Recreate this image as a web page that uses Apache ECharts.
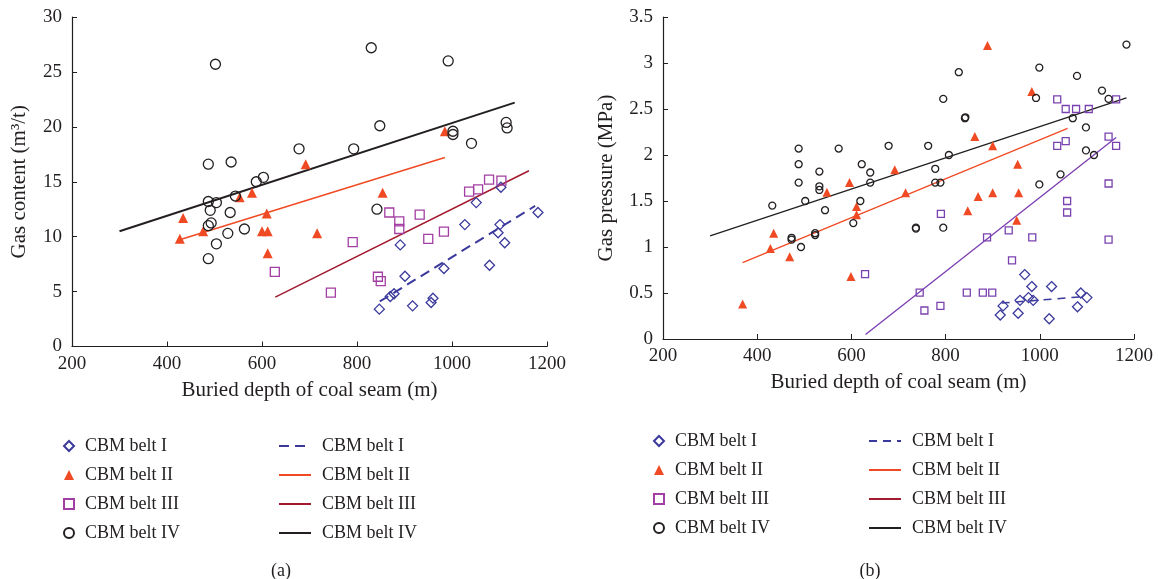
<!DOCTYPE html>
<html>
<head>
<meta charset="utf-8">
<script src="https://cdn.jsdelivr.net/npm/echarts@6/dist/echarts.min.js"></script>
<style>html,body{margin:0;padding:0;background:#fff}#c{width:1159px;height:579px}</style>
</head>
<body>
<div id="c"></div>
<script>
// ---- Chart (a): gas content vs buried depth ----
const a_belt1 = [[847,3.4],[870,4.55],[878,4.8],[891,9.25],[901,6.4],[917,3.7],[956,4.0],[960,4.4],[983,7.1],[1027,11.1],[1051,13.1],[1079,7.4],[1097,10.35],[1101,11.1],[1103,14.5],[1111,9.45],[1181,12.2]];
const a_belt2 = [[427,9.8],[434,11.7],[476,10.5],[553,13.6],[579,14.0],[600,10.5],[610,12.1],[612,10.5],[612,8.5],[692,16.6],[716,10.3],[854,14.0],[985,19.6]];
const a_belt3 = [[627,6.8],[745,4.9],[791,9.5],[844,6.35],[850,5.95],[868,12.2],[889,11.4],[889,10.7],[932,12.0],[950,9.8],[983,10.45],[1036,14.1],[1055,14.3],[1078,15.2],[1104,15.1]];
const a_belt4 = [[487,16.6],[502,25.7],[535,16.8],[588,15.0],[603,15.4],[487,13.2],[504,13.1],[544,13.7],[491,12.4],[533,12.2],[487,11.0],[493,11.25],[528,10.3],[563,10.7],[504,9.35],[487,8.0],[678,18.0],[793,18.0],[830,27.2],[842,12.5],[848,20.1],[992,26.0],[1002,19.6],[1002,19.3],[1041,18.5],[1114,20.4],[1116,19.9]];
const a_fit1 = [[848,4.1],[1175,12.8]];
const a_fit2 = [[425,9.7],[985,17.2]];
const a_fit3 = [[628,4.5],[1162,16.0]];
const a_fit4 = [[300,10.5],[1132,22.2]];

// ---- Chart (b): gas pressure vs buried depth ----
const b_belt1 = [[916,0.26],[922,0.36],[954,0.28],[958,0.42],[968,0.70],[976,0.45],[983,0.57],[986,0.42],[1020,0.22],[1025,0.57],[1080,0.35],[1087,0.50],[1100,0.45]];
const b_belt2 = [[369,0.38],[428,0.985],[435,1.15],[469,0.895],[548,1.595],[596,1.70],[599,0.68],[611,1.44],[611,1.35],[692,1.84],[715,1.59],[847,1.395],[862,2.20],[869,1.55],[889,3.19],[900,2.10],[900,1.59],[951,1.29],[953,1.90],[955,1.59],[983,2.69]];
const b_belt3 = [[629,0.706],[745,0.503],[755,0.31],[789,0.36],[790,1.36],[845,0.503],[879,0.503],[888,1.105],[899,0.503],[934,1.18],[941,0.855],[984,1.105],[1037,2.605],[1037,2.10],[1055,2.50],[1055,2.15],[1058,1.50],[1058,1.375],[1077,2.50],[1104,2.50],[1146,2.20],[1146,1.69],[1146,1.08],[1162,2.605],[1162,2.10]];
const b_belt4 = [[432,1.45],[488,2.07],[488,1.90],[488,1.70],[473,1.10],[473,1.08],[493,1.00],[502,1.50],[523,1.15],[523,1.13],[532,1.82],[532,1.66],[532,1.62],[544,1.40],[573,2.07],[604,1.26],[619,1.50],[622,1.90],[640,1.81],[640,1.70],[679,2.10],[737,1.21],[737,1.20],[763,2.10],[778,1.85],[778,1.70],[789,1.70],[795,2.61],[795,1.21],[807,2.00],[828,2.90],[841,2.40],[842,2.41],[992,2.62],[999,2.95],[999,1.68],[1044,1.79],[1070,2.40],[1079,2.86],[1098,2.30],[1098,2.05],[1115,2.00],[1132,2.70],[1146,2.61],[1184,3.20]];
const b_fit1 = [[919,0.39],[1090,0.46]];
const b_fit2 = [[369,0.83],[1059,2.29]];
const b_fit3 = [[630,0.05],[1162,2.19]];
const b_fit4 = [[300,1.12],[1184,2.62]];

const beltLabels = ['CBM belt I','CBM belt II','CBM belt III','CBM belt IV'];
const xAxisName = 'Buried depth of coal seam (m)';
const yNameA = 'Gas content (m³/t)';
const yNameB = 'Gas pressure (MPa)';

const FONT = '"Liberation Serif", "DejaVu Serif", serif';
const TXT = '#231f20';
const C1 = '#3b3a9c', C2 = '#f04a24', C3a = '#a33ea3', C3b = '#7a42b0', C4 = '#231f20';
const L3a = '#a31a2e', L3b = '#7a3cb0';

const nameMap = {};
['a','b'].forEach(p => {
  for (let i = 0; i < 4; i++) { nameMap[p+'_s'+(i+1)] = beltLabels[i]; nameMap[p+'_f'+(i+1)] = beltLabels[i]; }
});

function xAx(gi){
  return {gridIndex: gi, type:'value', min:200, max:1200, interval:200,
    name: xAxisName, nameLocation:'middle', nameGap:33,
    nameTextStyle:{fontFamily:FONT, fontSize:21, color:TXT},
    axisLine:{show:true, onZero:false, lineStyle:{color:TXT, width:1.2}},
    axisTick:{show:true, inside:true, length:5, lineStyle:{color:TXT}},
    axisLabel:{fontFamily:FONT, fontSize:19, color:TXT, margin:8, formatter: v => String(v)},
    splitLine:{show:false}};
}
function yAx(gi, max, interval, name, gap){
  return {gridIndex: gi, type:'value', min:0, max:max, interval:interval,
    name: name, nameLocation:'middle', nameGap:gap, nameRotate:90,
    nameTextStyle:{fontFamily:FONT, fontSize:21, color:TXT},
    axisLine:{show:true, onZero:false, lineStyle:{color:TXT, width:1.2}},
    axisTick:{show:true, inside:true, length:5, lineStyle:{color:TXT}},
    axisLabel:{fontFamily:FONT, fontSize:19, color:TXT, margin:10, formatter: v => String(v)},
    splitLine:{show:false}};
}
function sc(name, gi, data, symbol, color, size, filled){
  return {name, type:'scatter', xAxisIndex:gi, yAxisIndex:gi, data, symbol, symbolSize:size,
    itemStyle: filled ? {color:color, opacity:1} : {color:'rgba(255,255,255,0)', borderColor:color, borderWidth:1.3, opacity:1},
    emphasis:{disabled:true}, z:3};
}
function ln(name, gi, data, color, width, type){
  return {name, type:'line', xAxisIndex:gi, yAxisIndex:gi, data, symbol:'none', showSymbol:false,
    lineStyle:{color, width, type: type || 'solid'}, itemStyle:{color}, emphasis:{disabled:true}, z:2, animation:false};
}

const legendCommon = {orient:'vertical', itemGap:11, selectedMode:false, padding:0,
  textStyle:{fontFamily:FONT, fontSize:18, color:TXT, lineHeight:18, padding:[0,0,0,6]},
  formatter: n => nameMap[n]};
const symLegend = {itemWidth:10, itemHeight:10};
const lineLegend = {itemWidth:32, itemHeight:12, itemStyle:{opacity:0}};

const option = {
  animation:false,
  backgroundColor:'#fff',
  title:[
    {text:'(a)', left:276, top:557, textAlign:'center', textStyle:{fontFamily:FONT, fontSize:18, fontWeight:'normal', color:TXT}},
    {text:'(b)', left:865, top:557, textAlign:'center', textStyle:{fontFamily:FONT, fontSize:18, fontWeight:'normal', color:TXT}}
  ],
  grid:[
    {left:72, top:17, width:475, height:329.5},
    {left:663, top:17, width:471, height:322}
  ],
  xAxis:[xAx(0), xAx(1)],
  yAxis:[yAx(0, 30, 5, yNameA, 42), yAx(1, 3.5, 0.5, yNameB, 46)],
  legend:[
    Object.assign({}, legendCommon, symLegend, {left:63, top:437,
      data:['a_s1','a_s2','a_s3','a_s4']}),
    Object.assign({}, legendCommon, lineLegend, {left:278, top:437,
      data:['a_f1','a_f2','a_f3','a_f4']}),
    Object.assign({}, legendCommon, symLegend, {left:653, top:432,
      data:['b_s1','b_s2',{name:'b_s3', itemStyle:{borderColor:C3a}},'b_s4']}),
    Object.assign({}, legendCommon, lineLegend, {left:868, top:432,
      data:['b_f1','b_f2',{name:'b_f3', lineStyle:{color:L3a}},'b_f4']})
  ],
  series:[
    ln('a_f1',0,a_fit1,C1,2,[10,6]),
    ln('a_f2',0,a_fit2,C2,1.5),
    ln('a_f3',0,a_fit3,L3a,1.5),
    ln('a_f4',0,a_fit4,C4,2),
    sc('a_s1',0,a_belt1,'diamond',C1,10,false),
    sc('a_s2',0,a_belt2,'triangle',C2,10,true),
    sc('a_s3',0,a_belt3,'rect',C3a,9,false),
    sc('a_s4',0,a_belt4,'circle',C4,10,false),
    ln('b_f1',1,b_fit1,C1,1.5,[8,6]),
    ln('b_f2',1,b_fit2,C2,1.3),
    ln('b_f3',1,b_fit3,L3b,1.3),
    ln('b_f4',1,b_fit4,C4,1.3),
    sc('b_s1',1,b_belt1,'diamond',C1,10,false),
    sc('b_s2',1,b_belt2,'triangle',C2,9,true),
    sc('b_s3',1,b_belt3,'rect',C3b,7,false),
    sc('b_s4',1,b_belt4,'circle',C4,7,false)
  ]
};
const chart = echarts.init(document.getElementById('c'), null, {renderer:'canvas'});
chart.setOption(option);
</script>
</body>
</html>
